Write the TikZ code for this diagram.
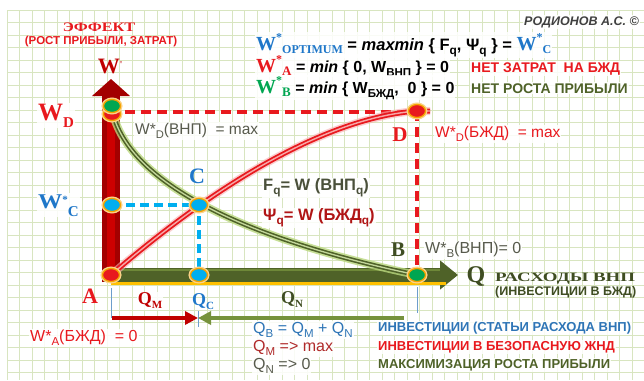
\documentclass[tikz,border=0pt]{standalone}
\usepackage{fontspec}
\setmainfont{Liberation Sans}
\newfontfamily\srf{Liberation Serif}
\usetikzlibrary{shapes.geometric,arrows.meta}
\definecolor{cRed}{HTML}{E8191E}
\definecolor{cDRed}{HTML}{C00000}
\definecolor{cBlue}{HTML}{1F77C9}
\definecolor{cCyan}{HTML}{00AEEF}
\definecolor{cGreen}{HTML}{00A651}
\definecolor{cOlive}{HTML}{4F6228}
\definecolor{cOliveD}{HTML}{3F4D22}
\definecolor{cOliveL}{HTML}{76923C}
\definecolor{cOliveLL}{HTML}{C3D69B}
\definecolor{cGlowG}{HTML}{B9D77E}
\definecolor{cGrid}{HTML}{D8E5C0}
\definecolor{cOrange}{HTML}{F5A300}
\definecolor{cGlow}{HTML}{FBD38A}
\definecolor{cPink}{HTML}{F7A8A8}
\definecolor{cYel}{HTML}{FFC000}
\definecolor{cGrayT}{HTML}{575A4C}
\definecolor{cFq}{HTML}{4A503A}
\definecolor{cPsi}{HTML}{B01515}
\definecolor{cTxtBlue}{HTML}{2E75B6}
\definecolor{cQM}{HTML}{B02A2A}
\definecolor{cDark}{HTML}{404040}
\newcommand\fsz[1]{\fontsize{#1}{#1}\selectfont}
\newcommand\sbs[1]{\raisebox{-0.25em}{\scalebox{0.72}{#1}}}
\newcommand\sps[1]{\raisebox{0.45em}{\scalebox{0.6}{#1}}}
\begin{document}
\begin{tikzpicture}[x=1pt,y=-1pt,
  every node/.style={inner sep=1pt},
  pt/.style={ellipse, minimum width=17pt, minimum height=13pt, inner sep=0pt,
    draw=cOrange, line width=1.3pt, preaction={draw=cGlow, line width=4pt}},
  reddash/.style={cRed, line width=3.2pt, dash pattern=on 10pt off 6pt},
  cyandash/.style={cCyan, line width=3.2pt, dash pattern=on 9pt off 5pt},
  redcurve/.style={draw=cRed, line width=1.8pt, double=cPink, double distance=1.4pt},
  redglow/.style={draw=cRed!35, line width=8pt, opacity=0.6},
  greencurve/.style={draw=cOlive, line width=1.6pt, double=cOliveLL, double distance=1.3pt},
  greenglow/.style={draw=cGlowG, line width=8pt, opacity=0.8},
  lbl/.style={fill=white, fill opacity=0.85, text opacity=1},
  tick/.style={cTxtBlue!70, line width=0.8pt}
]
\useasboundingbox (0,0) rectangle (644,380);
\fill[white] (0,0) rectangle (644,380);
% grid
\foreach \i in {0,...,50} \draw[cGrid, line width=0.8pt] ({7+12.5*\i},10) -- ({7+12.5*\i},380);
\foreach \j in {0,...,29} \draw[cGrid, line width=0.8pt] (7,{10+12.5*\j}) -- (644,{10+12.5*\j});

% key coordinates
\coordinate (pA) at (111,275);
\coordinate (pAb) at (111,282);
\coordinate (pA0) at (104,275);
\coordinate (pYtip) at (111,79);
\coordinate (pXtip) at (458,275);
\coordinate (pQC) at (199,275);
\coordinate (pB) at (417,275);
\coordinate (pC) at (199,205);
\coordinate (pD) at (417,111);
\coordinate (pWC) at (112,205);
\coordinate (pWD) at (112,106);
\coordinate (pWDr) at (112,114);
\coordinate (pWDs) at (112,110);
\coordinate (tA) at (112,318);
\coordinate (tC) at (198,318);
\coordinate (tB) at (404,318);

% axes
\draw[cDRed!85!black, line width=18pt, -{Triangle[width=37pt,length=17pt]}] (pAb) -- (pYtip);
\draw[cDRed!80!red, line width=8pt] (111,276) -- (111,100);
\draw[cOlive, line width=14pt, -{Triangle[width=28pt,length=18pt]}] (pA0) -- (pXtip);
\draw[cOliveL!80!cOlive, line width=2pt] (112,269.5) -- (440,269.5);
\draw[cYel, line width=2.5pt] (111,283.5) -- (446,283.5);

% dashed guides
\draw[reddash] (pWD |- pD) ++(13,1) -- ([yshift=-1pt]pD);
\draw[reddash] (pD) -- (pB);
\draw[cyandash] (pWC) -- (pC) -- (pQC);

% curves
\draw[greenglow] (pWDs) .. controls (128,185) and (250,240) .. (pB);
\draw[greencurve] (pWDs) .. controls (128,185) and (250,240) .. (pB);
\draw[redglow] (pA) .. controls (215,185) and (325,118) .. (pD) -- ++(13,0);
\draw[redcurve] (pA) .. controls (215,185) and (325,118) .. (pD) -- ++(13,0);

% points
\node[pt, fill=cRed] (A) at (pA) {};
\node[pt, fill=cCyan] (QC) at (pQC) {};
\node[pt, fill=cGreen] (B) at (pB) {};
\node[pt, fill=cCyan] (C) at (pC) {};
\node[pt, fill=cRed] (D) at (pD) {};
\node[pt, fill=cCyan] (WC) at (pWC) {};
\node[pt, fill=cRed] (WDr) at (pWDr) {};
\node[pt, fill=cGreen] (WD) at (pWD) {};

% bottom arrows and ticks
\draw[tick] (111,288) -- (111,318);
\draw[tick] (198,311) -- (198,327);
\draw[tick] (417,287) -- (417,313);
\draw[cDRed, line width=3.5pt, -{Triangle[width=13pt,length=13pt]}] (tA) -- (tC);
\draw[cOliveL, line width=3.5pt, -{Triangle[width=13pt,length=13pt]}] (tB) -- (tC);

% axis labels
\node[text=cRed] (teff) at (99,27) {\srf\bfseries\fsz{13}\scalebox{1.25}[1]{ЭФФЕКТ}};
\node[text=cRed] (trost) at (101,42) {\bfseries\fsz{11.5}(РОСТ ПРИБЫЛИ, ЗАТРАТ)};
\node[text=cDRed] (tW) at (110,66) {\srf\bfseries\fsz{22}W\raisebox{6pt}{\fsz{9}'}};
\node[lbl, text=cRed, anchor=base west] (tWD) at (37,120) {\srf\bfseries\fsz{25}W\raisebox{-7pt}{\fsz{15}D}};
\node[lbl, text=cBlue, anchor=base west] (tWC) at (37,208) {\srf\bfseries\fsz{21}\scalebox{1.15}[1]{W}\raisebox{5pt}{\fsz{11}*}\raisebox{-8pt}{\fsz{15}C}};
\node[text=cBlue] (tC) at (197,176) {\srf\bfseries\fsz{22}C};
\node[text=cRed] (tD) at (400,135) {\srf\bfseries\fsz{21}D};
\node[text=cOliveD] (tB) at (398,250) {\srf\bfseries\fsz{21}B};
\node[text=cRed] (tA) at (90,296) {\srf\bfseries\fsz{22}A};
\node[text=cOliveD] (tQ) at (476,276) {\srf\bfseries\fsz{24}Q};
\node[text=cOliveD, anchor=base west] (tras) at (494,281) {\srf\bfseries\fsz{12}\resizebox{140pt}{8.5pt}{РАСХОДЫ ВНП}};
\node[text=cOliveD, anchor=west] (tinv) at (494,292) {\bfseries\fsz{12.5}(ИНВЕСТИЦИИ В БЖД)};
\node[lbl, text=cDRed] (tQM) at (150,301) {\srf\bfseries\fsz{18}Q\raisebox{-4pt}{\fsz{11}M}};
\node[text=cBlue] (tQC) at (203,302) {\srf\bfseries\fsz{18}Q\raisebox{-4pt}{\fsz{11}C}};
\node[text=cOliveD] (tQN) at (292,300) {\srf\bfseries\fsz{18}Q\raisebox{-4pt}{\fsz{11}N}};

% curve labels
\node[lbl, text=cGrayT, anchor=west] (lWDv) at (134,131) {\fsz{15.5}W*\sbs{D}(ВНП)\ \ = max};
\node[lbl, text=cRed, anchor=west] (lWDb) at (434,134) {\fsz{15.5}W*\sbs{D}(БЖД) \ = max};
\node[lbl, text=cGrayT, anchor=west] (lWB) at (424,250) {\fsz{16}W*\sbs{B}(ВНП)= 0};
\node[lbl, text=cFq, anchor=west] (lFq) at (262,188) {\bfseries\fsz{16.5}F\sbs{q}= W (ВНП\sbs{q})};
\node[lbl, text=cPsi, anchor=west] (lPsi) at (262,218) {\bfseries\fsz{16.5}Ψ\sbs{q}= W (БЖД\sbs{q})};
\node[lbl, text=cRed, anchor=west] (lWA) at (29,338) {\fsz{16}W*\sbs{A}(БЖД) \ = 0};

% bottom texts
\node[lbl, text=cTxtBlue, anchor=west] (bQB) at (252,330) {\fsz{16}Q\sbs{B} = Q\sbs{M} + Q\sbs{N}};
\node[lbl, text=cQM, anchor=west] (bQM) at (252,348) {\fsz{16}Q\sbs{M} => max};
\node[lbl, text=cGrayT, anchor=west] (bQN) at (252,366) {\fsz{16}Q\sbs{N} => 0};
\node[lbl, text=cTxtBlue, anchor=west] (r1) at (377,328) {\bfseries\fsz{13}ИНВЕСТИЦИИ (СТАТЬИ РАСХОДА ВНП)};
\node[lbl, text=cRed, anchor=west] (r2) at (377,347) {\bfseries\fsz{13}ИНВЕСТИЦИИ В БЕЗОПАСНУЮ ЖНД};
\node[lbl, text=cOlive, anchor=west] (r3) at (377,365) {\bfseries\fsz{13}МАКСИМИЗАЦИЯ РОСТА ПРИБЫЛИ};

% top right
\node[lbl, anchor=east, text=cDark] (auth) at (640,22) {\bfseries\itshape\fsz{12.5}РОДИОНОВ А.С. ©};
\node[lbl, anchor=base west] (f1) at (255,50) {\textcolor{cBlue}{\srf\bfseries\fsz{20}W\sps{*}\raisebox{-3pt}{\fsz{12}OPTIMUM}}\bfseries\fsz{16.5} = \textit{maxmin} \{ F\sbs{q}, Ψ\sbs{q} \} = \textcolor{cBlue}{\srf\bfseries\fsz{20}W\sps{*}\raisebox{-3pt}{\fsz{12}C}}};
\node[lbl, anchor=base west] (f2) at (255,72) {\textcolor{cRed}{\srf\bfseries\fsz{20}W\sps{*}\raisebox{-3pt}{\fsz{13}A}}\bfseries\fsz{16} = \textit{min} \{ 0, W\sbs{ВНП} \} = 0};
\node[lbl, anchor=base west] (f3) at (255,93) {\textcolor{cGreen}{\srf\bfseries\fsz{20}W\sps{*}\raisebox{-3pt}{\fsz{13}B}}\bfseries\fsz{16} = \textit{min} \{ W\sbs{БЖД}, \ 0 \} = 0};
\node[lbl, anchor=base west, text=cRed] (n1) at (470,72) {\bfseries\fsz{14}НЕТ ЗАТРАТ \ НА БЖД};
\node[lbl, anchor=base west, text=cOlive] (n2) at (470,93) {\bfseries\fsz{14}НЕТ РОСТА ПРИБЫЛИ};
\end{tikzpicture}
\end{document}
